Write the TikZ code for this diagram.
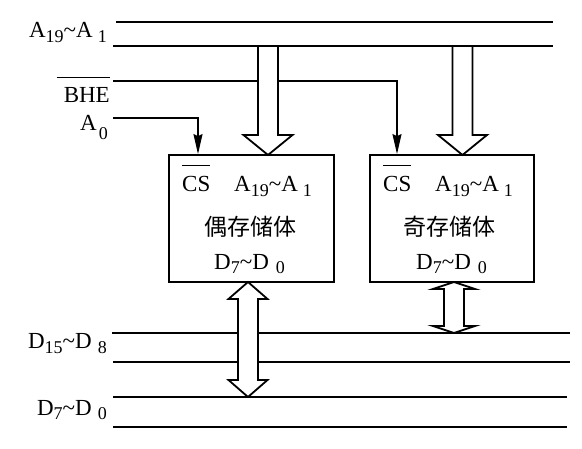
\documentclass[tikz,border=0pt]{standalone}
\usepackage{fontspec}
\setmainfont{Liberation Serif}
\newfontfamily\cjk{Noto Sans CJK SC}
\usetikzlibrary{arrows.meta}
% lowered small digits, and a bar over a name
\newcommand{\sbs}[2][5pt]{\raisebox{-#1}{\fontsize{18}{18}\selectfont #2}}
\newcommand{\ovl}[2]{\vbox{\hrule height 1.2pt\kern #1\hbox{#2}}}
\tikzset{
  bus/.style={line width=1.3pt},
  sig/.style={line width=1.3pt,-{Stealth[length=20pt,width=9pt,inset=2pt]}},
  membox/.style={draw,line width=1.8pt,minimum width=165pt,minimum height=127pt,inner sep=0pt},
  fat/.style={draw,line width=1.8pt,fill=white,line join=miter},
  lbl/.style={inner sep=0pt,font=\fontsize{23}{25}\selectfont},
  hanzi/.style={inner sep=0pt,font=\cjk\fontsize{23}{23}\selectfont},
}
\begin{document}
\begin{tikzpicture}[x=1pt,y=-1pt]
\useasboundingbox (0,0) rectangle (582,449);
% address bus
\coordinate (aTopL) at (116,22);
\coordinate (aTopR) at (553,22);
\coordinate (aBotL) at (113,46);
\coordinate (aBotR) at (553,46);
\draw[bus] (aTopL) -- (aTopR);
\draw[bus] (aBotL) -- (aBotR);
% data bus
\coordinate (dHiTL) at (112,333);
\coordinate (dHiTR) at (570,333);
\coordinate (dHiBL) at (113,362);
\coordinate (dHiBR) at (570,362);
\coordinate (dLoTL) at (113,397);
\coordinate (dLoTR) at (567,397);
\coordinate (dLoBL) at (113,427);
\coordinate (dLoBR) at (567,427);
\draw[bus] (dHiTL) -- (dHiTR);
\draw[bus] (dHiBL) -- (dHiBR);
\draw[bus] (dLoTL) -- (dLoTR);
\draw[bus] (dLoBL) -- (dLoBR);
% memory banks
\node[membox] (even) at (251.5,218.5) {};
\node[membox,minimum width=164pt] (odd) at (452,218.5) {};
% select lines
\coordinate (bheL) at (113,81);
\coordinate (bheR) at (397,81);
\coordinate (a0L) at (113,118);
\coordinate (a0R) at (198,118);
\draw[sig] (bheL) -- (bheR) -- (bheR |- odd.north);
\draw[sig] (a0L) -- (a0R) -- (a0R |- even.north);
% address into the banks
\draw[fat] (258,46) -- (278,46) -- (278,135) -- (292.5,135) -- (268,155) -- (243.5,135) -- (258,135) -- cycle;
\draw[fat] (452.5,46) -- (472.5,46) -- (472.5,135) -- (487,135) -- (462.5,155) -- (438,135) -- (452.5,135) -- cycle;
% data to the bus
\draw[fat] (248,282) -- (267.5,299) -- (258,299) -- (258,380) -- (267.5,380) -- (248,397) -- (228.5,380) -- (238,380) -- (238,299) -- (228.5,299) -- cycle;
\draw[fat] (454,282) -- (475,289) -- (464,289) -- (464,326) -- (475,326) -- (454,333) -- (433,326) -- (444,326) -- (444,289) -- (433,289) -- cycle;
% bus names
\node[lbl,anchor=base east] (aName) at (107,38) {A\sbs{19}\textasciitilde A\sbs{\kern5pt 1}};
\node[lbl,anchor=base east] (bheName) at (110,103) {\ovl{10pt}{\kern7pt BHE}};
\node[lbl,anchor=base east] (a0Name) at (108,131) {A\sbs[9pt]{\kern2pt 0}};
\node[lbl,anchor=base east] (dHiName) at (107,349) {D\sbs{15}\textasciitilde D\sbs{\kern6pt 8}};
\node[lbl,anchor=base east] (dLoName) at (107,416) {D\sbs[4pt]{7}\textasciitilde D\sbs[4pt]{\kern6pt 0}};
% even bank
\node[lbl,anchor=base west] (evenCS) at (182,192) {\ovl{11pt}{CS}};
\node[lbl,anchor=base west] (evenA) at (234,192) {A\sbs{19}\textasciitilde A\sbs{\kern5pt 1}};
\node[hanzi] (evenName) at (250,227) {偶存储体};
\node[lbl,anchor=base west] (evenD) at (214,270) {D\sbs[4pt]{7}\textasciitilde D\sbs[4pt]{\kern7pt 0}};
% odd bank
\node[lbl,anchor=base west] (oddCS) at (383,192) {\ovl{11pt}{CS}};
\node[lbl,anchor=base west] (oddA) at (435,192) {A\sbs{19}\textasciitilde A\sbs{\kern5pt 1}};
\node[hanzi] (oddName) at (449,227) {奇存储体};
\node[lbl,anchor=base west] (oddD) at (416,270) {D\sbs[4pt]{7}\textasciitilde D\sbs[4pt]{\kern7pt 0}};
\end{tikzpicture}
\end{document}
